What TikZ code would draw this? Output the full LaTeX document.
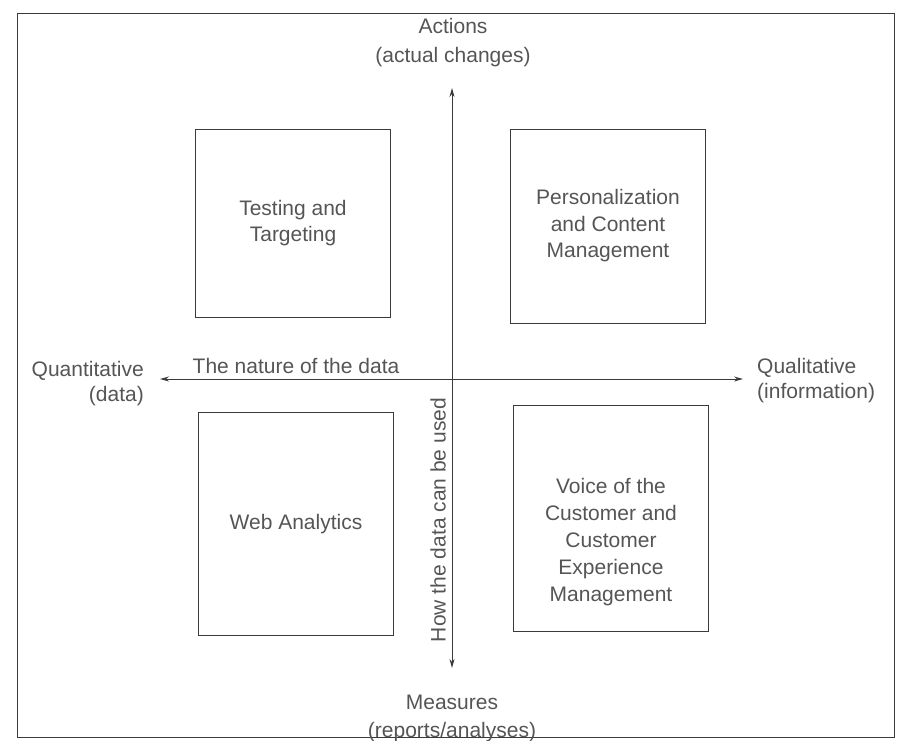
\documentclass[tikz,border=0pt]{standalone}
\usepackage{fontspec}
\setmainfont{Liberation Sans}
\usetikzlibrary{arrows.meta, positioning}
\definecolor{InkGray}{HTML}{3A3A3A}
\definecolor{TextGray}{HTML}{555555}

\begin{document}
\begin{tikzpicture}[x=1pt, y=-1pt,
  quadbox/.style={draw=InkGray, line width=0.9pt, minimum width=195pt,
                  align=center, text=TextGray, font=\fontsize{21}{26.5}\selectfont},
  polelabel/.style={text=TextGray, font=\fontsize{21}{25}\selectfont, inner sep=0pt},
  axisline/.style={InkGray, line width=1pt, {Stealth[length=9pt, width=5pt]}-{Stealth[length=9pt, width=5pt]}}]

\useasboundingbox (0,0) rectangle (899,740);

% ── Frame ─────────────────────────────────────────────────────────────────────
\draw[InkGray, line width=0.9pt] (17,13) rectangle (894,737);

% ── Quadrants ─────────────────────────────────────────────────────────────────
\node[quadbox, minimum height=188pt] (testing) at (293,223) {Testing and\\Targeting};
\node[quadbox, minimum height=194pt] (personal) at (608,226)
  {Personalization\\and Content\\Management};
\node[quadbox, minimum height=223pt] (webanalytics) at (296,524) {Web Analytics};
\node[quadbox, minimum height=226pt] (voice) at (611,518) {};
\node[align=center, text=TextGray, font=\fontsize{21}{27}\selectfont] (voicetext)
  at (611,542) {Voice of the\\Customer and\\Customer\\Experience\\Management};

% ── Poles ─────────────────────────────────────────────────────────────────────
\node[polelabel, align=center, font=\fontsize{21}{29}\selectfont] (actions) at (453,43)
  {Actions\\(actual changes)};
\node[polelabel, align=center, font=\fontsize{21}{28}\selectfont] (measures) at (452,718)
  {Measures\\(reports/analyses)};
\node[polelabel, align=right, anchor=east] (quant) at (144,384) {Quantitative\\(data)};
\node[polelabel, align=left, anchor=west] (qual) at (757,381) {Qualitative\\(information)};

% ── Axes ──────────────────────────────────────────────────────────────────────
\coordinate (axtop) at (452,88);
\coordinate (axbottom) at (452,668);
\coordinate (axleft) at (160,379);
\coordinate (axright) at (743,379);
\draw[axisline] (axleft) -- (axright);
\draw[axisline] (axbottom) -- (axtop);

\node[polelabel, anchor=south] (nature) at (296,374) {The nature of the data};
\node[polelabel, rotate=90, anchor=south] (usage) at (446,520) {How the data can be used};

\end{tikzpicture}
\end{document}
